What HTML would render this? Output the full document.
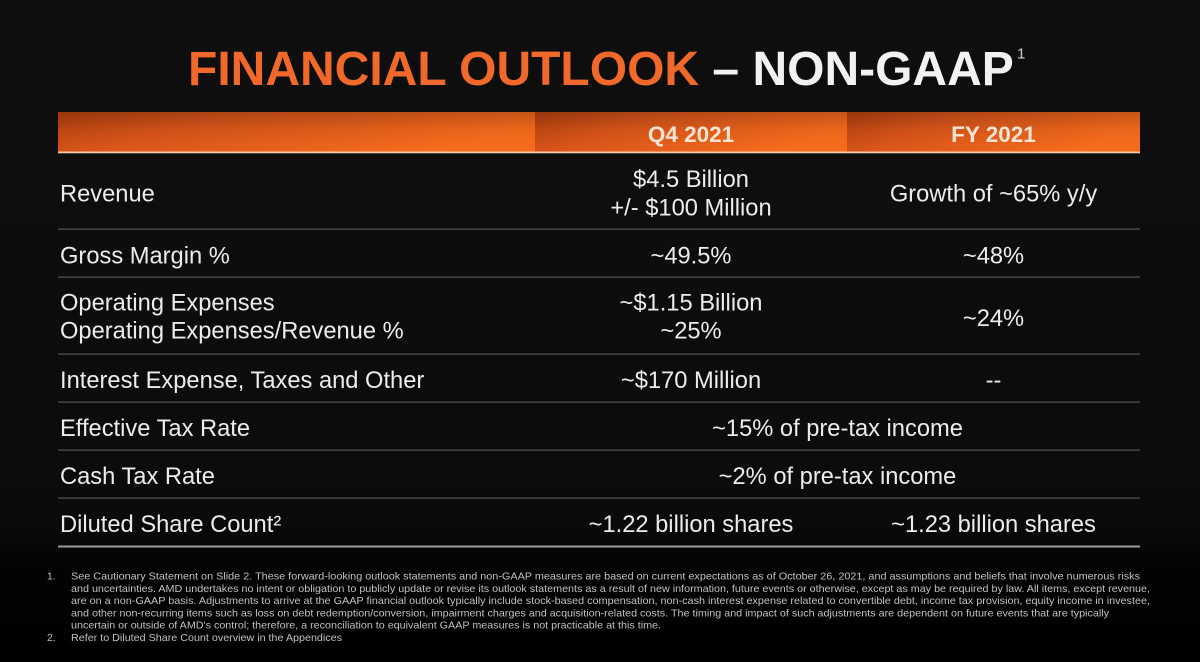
<!DOCTYPE html>
<html>
<head>
<meta charset="utf-8">
<style>
  html,body{margin:0;padding:0;background:#0c0c0c;}
  body{width:1200px;height:662px;overflow:hidden;}
  svg{display:block;}
  .t{font-family:"Liberation Sans",Arial,sans-serif;}
</style>
</head>
<body>
<svg width="1200" height="662" viewBox="0 0 1200 662" xmlns="http://www.w3.org/2000/svg">
  <defs>
    <linearGradient id="bg" x1="0" y1="0" x2="0" y2="1">
      <stop offset="0" stop-color="#0f0f0f"/>
      <stop offset="0.78" stop-color="#0b0b0b"/>
      <stop offset="0.86" stop-color="#030303"/>
      <stop offset="1" stop-color="#000000"/>
    </linearGradient>
    <linearGradient id="seg" x1="0" y1="0" x2="1" y2="0.35">
      <stop offset="0" stop-color="#b8420e"/>
      <stop offset="0.35" stop-color="#d9551a"/>
      <stop offset="1" stop-color="#f86c1c"/>
    </linearGradient>
    <linearGradient id="shade" x1="0" y1="0" x2="0" y2="1">
      <stop offset="0" stop-color="#000" stop-opacity="0.18"/>
      <stop offset="0.5" stop-color="#000" stop-opacity="0.04"/>
      <stop offset="1" stop-color="#000" stop-opacity="0"/>
    </linearGradient>
  </defs>

  <rect x="0" y="0" width="1200" height="662" fill="url(#bg)"/>

  <!-- Title -->
  <text class="t" x="188" y="85" font-size="48" font-weight="bold" fill="#f0682a">FINANCIAL OUTLOOK<tspan fill="#f2f2f2"> – NON-GAAP</tspan></text>
  <text class="t" x="1017" y="58.5" font-size="15" fill="#cfcfcf">1</text>

  <!-- Header bar -->
  <rect x="58" y="112" width="477" height="40" fill="url(#seg)"/>
  <rect x="535" y="112" width="312" height="40" fill="url(#seg)"/>
  <rect x="847" y="112" width="293" height="40" fill="url(#seg)"/>
  <rect x="58" y="112" width="1082" height="40" fill="url(#shade)"/>
  <rect x="58" y="151.5" width="1082" height="1.8" fill="#f4c7a6"/>

  <text class="t" x="691" y="142" font-size="22.5" font-weight="bold" fill="#f8e4d4" text-anchor="middle">Q4 2021</text>
  <text class="t" x="993.5" y="142" font-size="22.5" font-weight="bold" fill="#f8e4d4" text-anchor="middle">FY 2021</text>

  <!-- Row separators -->
  <g fill="#555555">
    <rect x="58" y="228.5" width="1082" height="1.2"/>
    <rect x="58" y="276.5" width="1082" height="1.2"/>
    <rect x="58" y="353.5" width="1082" height="1.2"/>
    <rect x="58" y="401.5" width="1082" height="1.2"/>
    <rect x="58" y="449.5" width="1082" height="1.2"/>
    <rect x="58" y="497.5" width="1082" height="1.2"/>
  </g>
  <rect x="58" y="545.5" width="1082" height="2" fill="#9c9c9c"/>

  <!-- Table text -->
  <g class="t" font-size="23.7" fill="#ececec">
    <!-- labels -->
    <text x="60" y="201.5">Revenue</text>
    <text x="60" y="263.5">Gross Margin %</text>
    <text x="60" y="310.5">Operating Expenses</text>
    <text x="60" y="338.5">Operating Expenses/Revenue %</text>
    <text x="60" y="388">Interest Expense, Taxes and Other</text>
    <text x="60" y="436">Effective Tax Rate</text>
    <text x="60" y="484">Cash Tax Rate</text>
    <text x="60" y="532">Diluted Share Count²</text>

    <!-- Q4 column -->
    <g text-anchor="middle">
      <text x="691" y="187">$4.5 Billion</text>
      <text x="691" y="215.5">+/- $100 Million</text>
      <text x="691" y="263.5">~49.5%</text>
      <text x="691" y="310.5">~$1.15 Billion</text>
      <text x="691" y="338.5">~25%</text>
      <text x="691" y="388">~$170 Million</text>
      <text x="837.5" y="436">~15% of pre-tax income</text>
      <text x="837.5" y="484">~2% of pre-tax income</text>
      <text x="691" y="532">~1.22 billion shares</text>

      <!-- FY column -->
      <text x="993.5" y="201.5">Growth of ~65% y/y</text>
      <text x="993.5" y="263.5">~48%</text>
      <text x="993.5" y="326">~24%</text>
      <text x="993.5" y="388">--</text>
      <text x="993.5" y="532">~1.23 billion shares</text>
    </g>
  </g>

  <!-- Footnotes -->
  <g class="t" font-size="10.4" fill="#c2c2c2">
    <text x="47" y="579.5">1.</text>
    <text x="71" y="579.5" textLength="1069" lengthAdjust="spacingAndGlyphs">See Cautionary Statement on Slide 2. These forward-looking outlook statements and non-GAAP measures are based on current expectations as of October 26, 2021, and assumptions and beliefs that involve numerous risks</text>
    <text x="71" y="591.8" textLength="1079" lengthAdjust="spacingAndGlyphs">and uncertainties. AMD undertakes no intent or obligation to publicly update or revise its outlook statements as a result of new information, future events or otherwise, except as may be required by law. All items, except revenue,</text>
    <text x="71" y="604.1" textLength="1079" lengthAdjust="spacingAndGlyphs">are on a non-GAAP basis. Adjustments to arrive at the GAAP financial outlook typically include stock-based compensation, non-cash interest expense related to convertible debt, income tax provision, equity income in investee,</text>
    <text x="71" y="616.4" textLength="1038" lengthAdjust="spacingAndGlyphs">and other non-recurring items such as loss on debt redemption/conversion, impairment charges and acquisition-related costs. The timing and impact of such adjustments are dependent on future events that are typically</text>
    <text x="71" y="628.7" textLength="590" lengthAdjust="spacingAndGlyphs">uncertain or outside of AMD's control; therefore, a reconciliation to equivalent GAAP measures is not practicable at this time.</text>
    <text x="47" y="641">2.</text>
    <text x="71" y="641" textLength="271" lengthAdjust="spacingAndGlyphs">Refer to Diluted Share Count overview in the Appendices</text>
  </g>
</svg>
</body>
</html>
